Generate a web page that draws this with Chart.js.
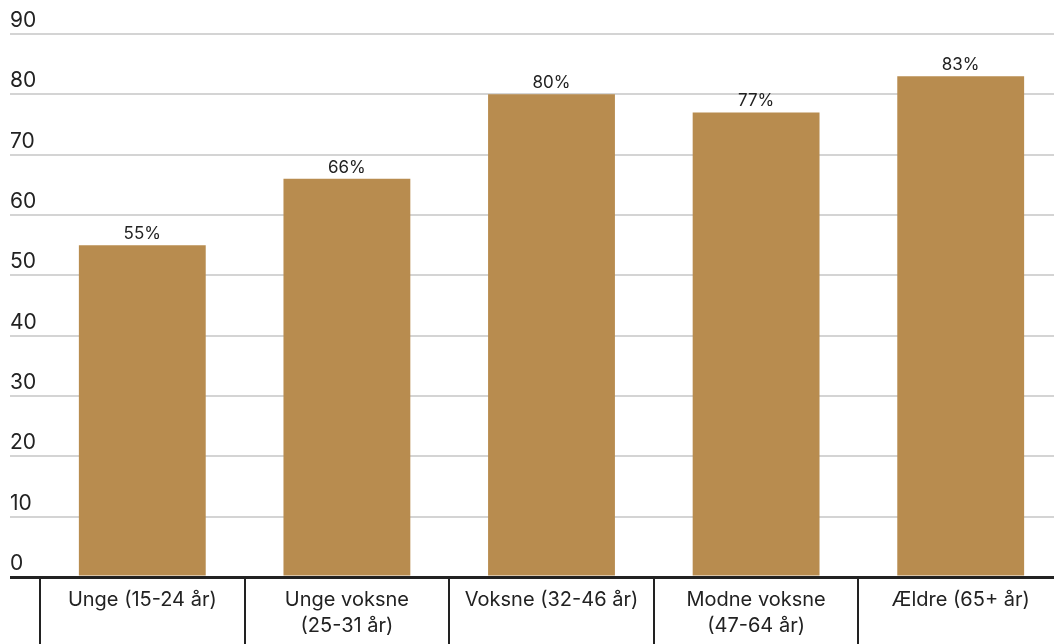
<!DOCTYPE html>
<html>
<head>
<meta charset="utf-8">
<script src="https://cdn.jsdelivr.net/npm/chart.js@4/dist/chart.umd.min.js"></script>
<style>
  html, body { margin: 0; padding: 0; background: #fff; overflow: hidden; }
  #wrap { width: 1063px; height: 644px; }
</style>
</head>
<body>
<div id="wrap"><canvas id="c" width="1063" height="644"></canvas></div>
<script>
// Age groups and share (%) per group
const categories = [
  ["Unge (15-24 år)"],
  ["Unge voksne", "(25-31 år)"],
  ["Voksne (32-46 år)"],
  ["Modne voksne", "(47-64 år)"],
  ["Ældre (65+ år)"]
];
const values = [55, 66, 80, 77, 83];
const yTicks = [0, 10, 20, 30, 40, 50, 60, 70, 80, 90];

const FONT = "Inter, 'Noto Sans', sans-serif";
const INK = "#222222";
const BAR = "#b88c4f";

// Y tick labels sit above their gridline, left-aligned at the grid's start
const yLabelPlugin = {
  id: "yLabels",
  afterDraw(chart) {
    const y = chart.scales.y;
    const ctx = chart.ctx;
    ctx.save();
    ctx.font = "21px " + FONT;
    ctx.fillStyle = INK;
    ctx.textAlign = "left";
    ctx.textBaseline = "alphabetic";
    yTicks.forEach(v => {
      ctx.fillText(String(v), 10, y.getPixelForValue(v) - 7);
    });
    ctx.restore();
  }
};

// Percentage labels above each bar
const valueLabelPlugin = {
  id: "valueLabels",
  afterDatasetsDraw(chart) {
    const ctx = chart.ctx;
    const meta = chart.getDatasetMeta(0);
    ctx.save();
    ctx.font = "17px " + FONT;
    ctx.fillStyle = INK;
    ctx.textAlign = "center";
    ctx.textBaseline = "alphabetic";
    meta.data.forEach((bar, i) => {
      ctx.fillText(values[i] + "%", bar.x, bar.y - 6);
    });
    ctx.restore();
  }
};

new Chart(document.getElementById("c"), {
  type: "bar",
  data: {
    labels: categories,
    datasets: [{
      data: values,
      backgroundColor: BAR,
      borderWidth: 0,
      barPercentage: 0.62,
      categoryPercentage: 1
    }]
  },
  options: {
    responsive: false,
    animation: false,
    layout: { padding: { left: 10, top: 34, right: 0, bottom: 0 } },
    plugins: { legend: { display: false }, tooltip: { enabled: false } },
    scales: {
      x: {
        border: { display: false },
        grid: {
          offset: true,
          drawOnChartArea: false,
          drawTicks: true,
          tickLength: 70,
          color: INK,
          lineWidth: 2
        },
        ticks: {
          padding: -60,
          font: { family: FONT, size: 20, lineHeight: 1.3 },
          color: INK,
          maxRotation: 0,
          autoSkip: false
        },
        afterFit(scale) { scale.height = 67; }
      },
      y: {
        min: 0,
        max: 90,
        border: { display: false },
        ticks: { display: false, stepSize: 10 },
        grid: {
          drawTicks: true,
          tickLength: 30,
          color: ctx => ctx.tick && ctx.tick.value === 0 ? INK : "#d4d4d4",
          lineWidth: ctx => ctx.tick && ctx.tick.value === 0 ? 3 : 2
        },
        afterFit(scale) { scale.width = 30; }
      }
    }
  },
  plugins: [yLabelPlugin, valueLabelPlugin]
});
</script>
</body>
</html>
